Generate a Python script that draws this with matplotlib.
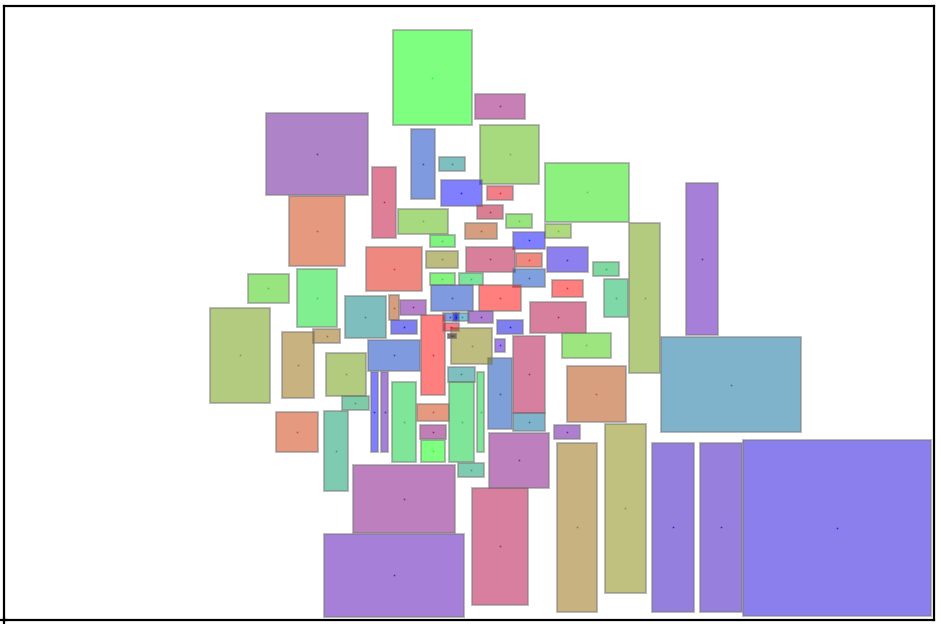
import matplotlib

matplotlib.use("Agg")

import matplotlib.pyplot as plt
from matplotlib.patches import Rectangle
from matplotlib.colors import to_rgb
from matplotlib.lines import Line2D

# packed rectangles: left, top, right, bottom (chart units, y grows downward)
left = [392.7, 474.7, 265.7, 410.7, 438.7, 480, 440.7, 486.8, 545, 372,
        288.7, 476.7, 398.3, 505.7, 464.7, 429.7, 545, 512.7, 366, 425.7,
        465.7, 515.7, 546.7, 592.7, 429.7, 458.7, 512.7, 551.7, 603.7, 430.7,
        478.7, 529.7, 561.7, 566.7, 629, 685.5, 660.7, 652.3, 700.3, 742.7,
        604.7, 556.7, 553.7, 489, 471.7, 512.7, 488, 513, 494.7, 451,
        468, 496.7, 443.3, 455.7, 453.3, 389, 399.7, 344.7, 390.7, 421,
        443.3, 447.7, 447.7, 368, 313.3, 326, 342, 323.7, 281.7, 209.7,
        247.7, 296.7, 276.3, 370.7, 380.7, 391.7, 417, 419.7, 421, 447.7,
        449, 477, 457.7, 353, 323.7]
top = [30, 93.7, 112.7, 128.7, 156.5, 124.7, 179.7, 185.8, 163, 166.7,
       195.7, 204.7, 209, 213.8, 222.7, 234.7, 224, 231.7, 247, 250.7,
       246.7, 252.7, 246.7, 261.7, 272.7, 272.7, 269.3, 279.7, 278.7, 284.7,
       284.7, 301.7, 332.7, 365.7, 222.7, 183.3, 337, 442.7, 442.7, 439.7,
       424, 442.7, 424.7, 432.7, 487.7, 413.3, 358, 335.7, 338.7, 328,
       311, 319.7, 313.3, 313.3, 313.3, 295, 299.7, 295.7, 319.7, 315.3,
       322.7, 334, 334, 340, 328.7, 352.7, 396, 410.7, 331.7, 307.7,
       273.7, 268.7, 411.7, 372.3, 372.3, 381.7, 403.7, 425, 439.7, 366.7,
       381.7, 372.3, 462.7, 464.7, 533.7]
right = [472, 525.3, 368.3, 435.3, 465.3, 539, 482, 513.3, 629, 396.2,
         345, 503, 447.7, 532, 497, 455, 571, 544.7, 422, 458,
         514.7, 542, 588, 619, 455, 483, 545, 583, 627.7, 473,
         521, 586.3, 611, 626, 660, 718.2, 801.2, 694, 742.3, 931.3,
         646, 597, 580, 549, 528, 545, 512, 545, 505.3, 492,
         493, 522.7, 455.7, 469, 459, 399.3, 426, 386, 417, 444.7,
         459, 455.7, 455.7, 420, 340, 366, 368.7, 348, 314.3, 270,
         289, 336.7, 318.3, 378, 388.3, 416, 449, 446, 445, 475,
         474, 484, 484, 455, 464]
bottom = [125, 119, 195, 199, 171, 184, 206, 200.3, 221.7, 238,
          266, 219, 233.7, 228, 239.3, 247, 238, 249, 290.7, 268,
          272, 267, 272.3, 276, 285, 285, 287, 297, 317, 311,
          311, 333, 358, 422, 372.7, 334.7, 432, 612, 612, 616,
          592.7, 612, 439.3, 488, 604.7, 431, 429, 412.7, 352, 364,
          323, 334, 321.3, 321.3, 321.3, 320, 315, 338, 334, 394.7,
          330.5, 338.3, 338.3, 370.7, 342.7, 396, 409.7, 491, 398, 403,
          303, 327, 452.3, 452.3, 452.3, 462.3, 421, 439, 462.3, 381.7,
          462.3, 452.3, 477.3, 533, 616.7]
tints = ["#80ff80", "#c87db6", "#b084c9", "#7f9be0", "#7fc0c0", "#a8db80", "#7f7fff", "#f27f8a", "#8ef280", "#e07f98",
         "#e69a7f", "#d97f95", "#a8db80", "#99e680", "#d6a07f", "#7ff57f", "#b0da80", "#7f7fff", "#f08a7f", "#bdbd80",
         "#d97f9c", "#f08a7f", "#8f7ff0", "#7fd9a0", "#86f47f", "#7fe59c", "#7fa0e0", "#ff7f7f", "#7fd9a8", "#7f9be0",
         "#ff7f7f", "#d97f9e", "#9ee680", "#d9a07f", "#b3cc80", "#a680d9", "#80b3cc", "#957fe0", "#9880de", "#8c80ef",
         "#c2c280", "#c9b37f", "#b07fd0", "#bf80bf", "#d97fa0", "#80b3cc", "#7fa0da", "#d87f9f", "#9f7fe6", "#bfbe7f",
         "#b07fd0", "#7a80f0", "#7f9be0", "#80c0d0", "#7f7fff", "#d6a07f", "#b67fca", "#80bfbf", "#7f7ff0", "#ff7f7f",
         "#f07f8a", "#b2a0a3", "#b2a0a3", "#7f9be0", "#c9b07f", "#b3cc80", "#7fcca8", "#80ccb3", "#c9b37f", "#b3cc80",
         "#99e680", "#80f090", "#e69a7f", "#8080ff", "#a680d9", "#80e699", "#e69a7f", "#c07fb5", "#80ff80", "#80c0c0",
         "#80e699", "#80e699", "#80ccb3", "#bf80bf", "#a680d9"]

fig = plt.figure(figsize=(9.41, 6.24), dpi=100)
ax = fig.add_axes([4.3 / 941, 4 / 624, 930 / 941, 613.7 / 624])

for x0, y0, x1, y1, t in zip(left, top, right, bottom, tints):
    # the tint is the colour at alpha 0.5 on white, so undo that
    base = tuple(max(0.0, min(1.0, 2 * c - 1)) for c in to_rgb(t))
    ax.add_patch(Rectangle((x0, y0), x1 - x0, y1 - y0, facecolor=base,
                           edgecolor="#777777", linewidth=1.4, alpha=0.5))
    ax.plot((x0 + x1) / 2, (y0 + y1) / 2, "s", ms=1.1, mew=0, color=base, alpha=0.8)

ax.set_xlim(4.3, 934.3)
ax.set_ylim(620, 6.3)
ax.set_xticks([])
ax.set_yticks([])
for s in ax.spines.values():
    s.set_linewidth(1.6)

# little overshoot of the axis lines at the bottom-left corner
fig.add_artist(Line2D([0, 6 / 941], [4 / 624, 4 / 624], color="black", lw=1.6))
fig.add_artist(Line2D([4.3 / 941, 4.3 / 941], [0, 6 / 624], color="black", lw=1.6))

plt.savefig("out.png")
plt.close()
